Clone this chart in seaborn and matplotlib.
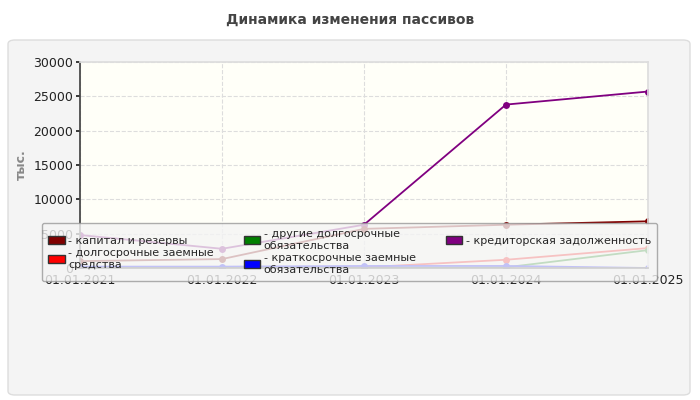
import matplotlib
matplotlib.use("Agg")
import matplotlib.pyplot as plt
import seaborn as sns
import pandas as pd
from matplotlib.patches import FancyBboxPatch, Patch

dates = ["01.01.2021", "01.01.2022", "01.01.2023", "01.01.2024", "01.01.2025"]
kapital = [1000, 1300, 5700, 6300, 6800]
dolg_zaem = [0, 0, 100, 1200, 2900]
drugie_dolg = [0, 0, 0, 100, 2600]
kratk_zaem = [200, 200, 300, 300, 0]
kreditor = [4800, 2800, 6300, 23800, 25700]

names = ["- капитал и резервы", "- долгосрочные заемные\nсредства",
         "- другие долгосрочные\nобязательства", "- краткосрочные заемные\nобязательства",
         "- кредиторская задолженность"]
colors = ["#800000", "#ff0000", "#008000", "#0000ff", "#800080"]
series = [kapital, dolg_zaem, drugie_dolg, kratk_zaem, kreditor]

rows = []
for n, s in zip(names, series):
    for i, v in enumerate(s):
        rows.append({"x": i, "v": v, "s": n})
df = pd.DataFrame(rows)

sns.set_theme(style="white")
plt.rcParams['font.family'] = ['DejaVu Sans']
fig = plt.figure(figsize=(7, 4), dpi=100)
fig.patch.set_facecolor("white")
fig.patches.append(FancyBboxPatch((8/700, 5/400), 682/700, 355/400, boxstyle="round,pad=0,rounding_size=0.01",
                                  transform=fig.transFigure, facecolor="#f4f4f4", edgecolor="#dddddd", zorder=-1))
fig.text(0.5, 1 - 20/400, "Динамика изменения пассивов", ha="center", va="center",
         fontsize=10, fontweight="bold", color="#444444")

ax = fig.add_axes([80/700, 1 - 268/400, 568/700, 206/400])
ax.set_facecolor("#fffff8")
order = [names[4], names[0], names[1], names[2], names[3]]
for n in order:
    d = df[df.s == n]
    sns.lineplot(data=d, x="x", y="v", ax=ax, color=colors[names.index(n)], marker="o",
                 markersize=5, markeredgewidth=0, linewidth=1.3, label=n)
ax.set_xlim(0, 4)
ax.set_ylim(0, 30000)
ax.set_xticks(range(5))
ax.set_xticklabels(dates, fontsize=9, color="#222222")
ax.set_yticks(range(0, 30001, 5000))
ax.tick_params(axis="y", labelsize=9, colors="#222222", length=3, left=True, pad=2)
ax.tick_params(axis="x", length=0, pad=4)
ax.set_xlabel("")
ax.set_ylabel("тыс.", fontsize=9, color="#888888", fontweight="bold")
ax.grid(True, linestyle="--", color="#dddddd", linewidth=0.8)
for s in ["top", "right"]:
    ax.spines[s].set_color("#dddddd")
for s in ["left", "bottom"]:
    ax.spines[s].set_color("#444444")
ax.get_legend().remove()

hs = [Patch(facecolor=c, edgecolor="#333333") for c in colors]
leg = fig.legend(hs, names, loc="upper left", bbox_to_anchor=(36/700, 1 - 300/400, 627/700, 83/400),
                 mode="expand", ncol=3, fontsize=8, frameon=True, handlelength=1.5, handleheight=0.7,
                 handletextpad=0.3, columnspacing=1.0, labelspacing=0.2, borderpad=0.6, alignment="left")
leg.get_frame().set_facecolor("#f4f4f4")
leg.get_frame().set_edgecolor("#999999")
fig.savefig("out.png", dpi=100)
